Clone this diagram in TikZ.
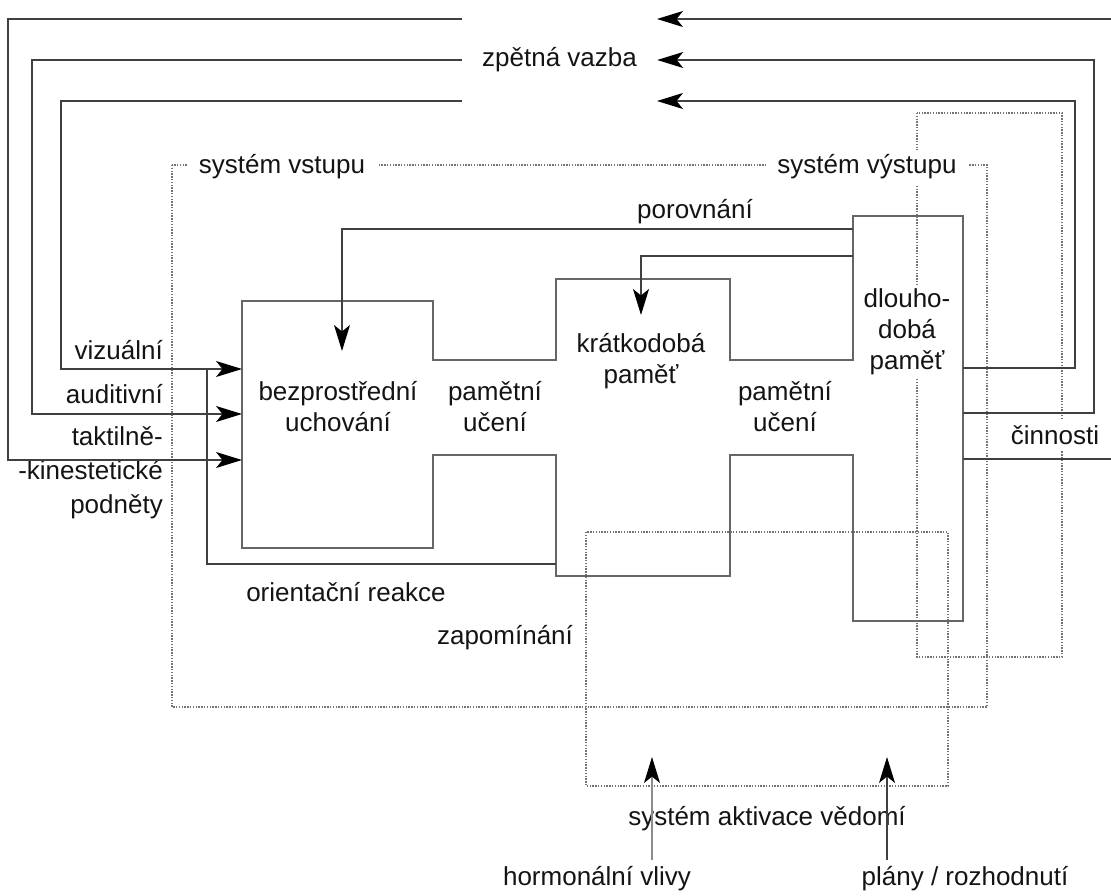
\documentclass[tikz,border=0pt]{standalone}
\usepackage{fontspec}
\setmainfont{Liberation Sans}
\usetikzlibrary{arrows.meta}
\begin{document}
\begin{tikzpicture}[x=1pt,y=-1pt,
  lbl/.style={font=\fontsize{26}{31}\selectfont, text=black!92, inner sep=0pt, align=center},
  conn/.style={draw=black!75, line width=1.4pt},
  arr/.style={conn, -{Stealth[length=26pt,width=16pt,inset=6.5pt,black]}},
  memwall/.style={draw=black!60, line width=1.4pt},
  sysbox/.style={draw=black!55, line width=1.2pt, dash pattern=on 1.4pt off 1.4pt},
]
\useasboundingbox (0,0) rectangle (1111,896);

% dotted system boundaries
\draw[sysbox] (172,165) rectangle (987,707);   % input / output system
\draw[sysbox] (917,113) rectangle (1062,657);  % output side
\draw[sysbox] (586,532) rectangle (948,786);   % activation of consciousness

% labels that interrupt the dotted boundaries
\node[lbl, fill=white, inner xsep=12pt, inner ysep=5pt] (vin)  at (282,167) {systém vstupu};
\node[lbl, fill=white, inner xsep=11pt, inner ysep=5pt] (vout) at (867,167) {systém výstupu};
\node[lbl, fill=white, inner sep=3pt] (dp)  at (907,332) {dlouho-\\dobá\\paměť};
\node[lbl, fill=white, inner xsep=0pt, inner ysep=6pt] (act) at (1055,435) {činnosti};

% memory stores as one connected outline
\draw[memwall] (242,301) -- (433,301) -- (433,360) -- (556,360) -- (556,279)
  -- (730,279) -- (730,360) -- (853,360) -- (853,216) -- (963,216) -- (963,621)
  -- (853,621) -- (853,455) -- (730,455) -- (730,576) -- (556,576) -- (556,455)
  -- (433,455) -- (433,548) -- (242,548) -- cycle;

\node[lbl] (bez) at (338,407) {bezprostřední\\uchování};
\node[lbl] (pu1) at (495,407) {pamětní\\učení};
\node[lbl] (kp)  at (641,361) {krátkodobá\\paměť};
\node[lbl] (pu2) at (785,407) {pamětní\\učení};

% other labels
\node[lbl, minimum width=195pt] (fb) at (559.5,60) {zpětná vazba};
\node[lbl] (cmp) at (695,212) {porovnání};
\node[lbl, anchor=east] (vis) at (163,350) {vizuální};
\node[lbl, anchor=east] (aud) at (163,394) {auditivní};
\node[lbl, anchor=north east, align=right, font=\fontsize{26}{34}\selectfont] (tak) at (163,426) {taktilně-\\-kinestetické\\podněty};
\node[lbl] (ori) at (346,592) {orientační reakce};
\node[lbl] (zap) at (505,638) {zapomínání};
\node[lbl] (sav) at (767,819) {systém aktivace vědomí};
\node[lbl] (hor) at (597,879) {hormonální vlivy};
\node[lbl] (pla) at (965,879) {plány / rozhodnutí};

% connection points
\coordinate (fbTopE) at (657,19);
\coordinate (fbTopW) at (462,19);
\coordinate (fbLowE) at (657,101);
\coordinate (fbLowW) at (462,101);
\coordinate (rimTop) at (1111,19);
\coordinate (rimAct) at (1111,459);
\coordinate (bzIn1) at (242,369);
\coordinate (bzIn2) at (242,414);
\coordinate (bzIn3) at (242,460);
\coordinate (bzCmp) at (342,351);
\coordinate (kpCmp) at (641,315);
\coordinate (kpW)   at (556,564);
\coordinate (oriJoin) at (207,369);
\coordinate (dpW1) at (853,229);
\coordinate (dpW2) at (853,256);
\coordinate (dpE1) at (963,368);
\coordinate (dpE2) at (963,413);
\coordinate (dpE3) at (963,459);
\coordinate (horSrc) at (652,860);
\coordinate (horTip) at (652,757);
\coordinate (plaSrc) at (887,860);
\coordinate (plaTip) at (887,757);

% feedback loops
\draw[arr] (rimTop) -- (fbTopE);
\draw[arr] (fbTopW) -- (8,19) -- (8,460) -- (bzIn3);
\draw[arr] (dpE2) -- (1094,413) -- (1094,60) -- (fb.east);
\draw[arr] (fb.west) -- (32,60) -- (32,414) -- (bzIn2);
\draw[arr] (dpE1) -- (1075,368) -- (1075,101) -- (fbLowE);
\draw[arr] (fbLowW) -- (61,101) -- (61,369) -- (bzIn1);

% orienting reaction and comparison
\draw[conn] (kpW) -- (207,564) -- (oriJoin);
\draw[arr] (dpW1) -- (342,229) -- (bzCmp);
\draw[arr] (dpW2) -- (641,256) -- (kpCmp);

% output
\draw[conn] (dpE3) -- (rimAct);

% influences on the activation system
\draw[arr, draw=black!45] (horSrc) -- (horTip);
\draw[arr] (plaSrc) -- (plaTip);
\end{tikzpicture}
\end{document}
